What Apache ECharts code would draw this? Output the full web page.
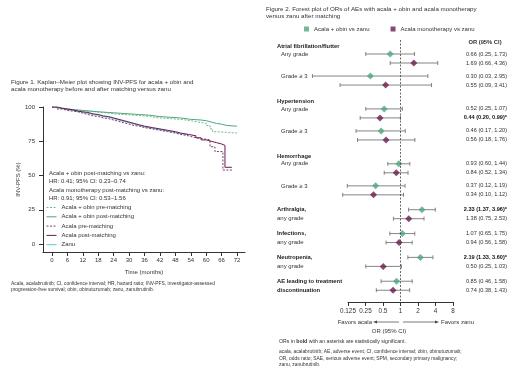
<!DOCTYPE html>
<html lang="en">
<head>
<meta charset="UTF-8">
<title>INV-PFS and AE odds ratios</title>
<script src="https://cdn.jsdelivr.net/npm/echarts@6.0.0/dist/echarts.min.js"></script>
<style>html,body{margin:0;background:#fff;}</style>
</head>
<body>
<div id="main" style="width:520px;height:374px;"></div>
<script>
// Figure 1: Kaplan-Meier steps, [month, % progression-free]
const obinPre = [[0,100],[1,99.5],[3,99],[5,98],[8,97.5],[11,97],[14,96.5],[17,96],[20,95],[24,94.5],[28,94],[32,93.5],[36,93],[38,92],[42,91.5],[46,91],[50,90],[54,89],[57,88],[60,86.5],[61.5,84],[62.5,82],[64,81],[72,80.5]];
const obinPost = [[0,100],[1,99.5],[2,99],[4,98.5],[6,98],[9,97.5],[12,97],[15,96.5],[18,96],[22,95.5],[26,95],[30,94.5],[34,94],[38,93],[42,92.5],[46,92],[50,91],[54,90.5],[58,90],[60,89],[62,88],[64,87.5],[66,86.5],[68,86],[72,86]];
const acalaPre = [[0,100],[2,98.5],[4,97.5],[6,97],[8,96.5],[10,95.5],[12,94.5],[14,93.5],[16,93],[18,92],[20,91.5],[22,90.5],[24,89.5],[26,88.5],[28,87.5],[30,86.5],[32,86],[34,85],[36,84],[39,83],[42,82],[45,81],[48,80],[50,79],[53,78],[55,77],[58,76],[61.5,71],[63.4,67.5],[66.5,54],[70,54]];
const acalaPost = [[0,100],[2,99],[4,98.5],[6,98],[8,97],[10,96.5],[12,96],[14,95],[16,94.5],[18,93.5],[20,93],[22,92],[24,91],[26,90],[28,89],[30,88],[32,87],[34,86],[36,85],[39,84],[42,83],[45,82],[48,81],[50,80],[53,79],[56,77.5],[58,76],[60,75],[62,74],[64,73],[66,72],[67.3,56],[70,56]];
const zanu = [[0,100],[2,99],[4,98],[6,97.5],[8,97],[10,96],[12,95.5],[14,94.5],[16,94],[18,93],[20,92.5],[22,91.5],[24,90.5],[26,89.5],[28,88.5],[30,87.5],[32,86.5],[34,85.5],[36,84.5],[39,83.5],[42,82.5],[45,81.5],[48,80.5],[50,80],[53,79.5]];
const kmMonthTicks = [0, 6, 12, 18, 24, 30, 36, 42, 48, 54, 60, 66, 72];
const kmPctTicks = [0, 25, 50, 75, 100];

// Figure 2: odds ratios, one entry per row pair
const aeNames = ['Atrial fibrillation/flutter', 'Hypertension', 'Hemorrhage', 'Arthralgia,', 'Infections,', 'Neutropenia,', 'AE leading to treatment'];
const aeGrades = [['Any grade', 'Grade \u2265 3'], ['Any grade', 'Grade \u2265 3'], ['Any grade', 'Grade \u2265 3'], ['any grade'], ['any grade'], ['any grade'], ['discontinuation']];
const obinOR = [0.66, 0.30, 0.52, 0.46, 0.93, 0.37, 2.33, 1.07, 2.19, 0.85];
const obinLo = [0.25, 0.03, 0.25, 0.17, 0.60, 0.12, 1.37, 0.65, 1.33, 0.46];
const obinHi = [1.73, 2.95, 1.07, 1.20, 1.44, 1.19, 3.96, 1.75, 3.60, 1.58];
const monoOR = [1.69, 0.55, 0.44, 0.56, 0.84, 0.34, 1.38, 0.94, 0.50, 0.74];
const monoLo = [0.66, 0.09, 0.20, 0.18, 0.52, 0.10, 0.75, 0.56, 0.25, 0.38];
const monoHi = [4.36, 3.41, 0.99, 1.76, 1.34, 1.12, 2.53, 1.58, 1.03, 1.43];

const FONT = 'Liberation Sans, Arial, sans-serif';
const GREEN = '#4ea67c', PURPLE = '#6a1c4c', INK = '#333';

// row layout in "row" units of the forest y axis (green row; purple sits one unit lower)
const pairY = [], heads = [];
let cur = -1;
aeGrades.forEach((grades, g) => {
  grades.forEach((lab, k) => {
    cur += (g === 0 && k === 0) ? 1 : k > 0 ? 1.45 : grades.length > 1 ? 2.65 : 1.65;
    pairY.push(cur);
    heads.push({ g, k, lab, stacked: grades.length > 1 });
    cur += 1;
  });
});

const myChart = echarts.init(document.getElementById('main'));

function kmLine(name, data, color, dashed) {
  return {
    name, type: 'line', step: 'end', data, xAxisIndex: 0, yAxisIndex: 0,
    symbol: 'none', showSymbol: false, silent: true,
    lineStyle: { color, width: 1, type: dashed ? [2, 1.5] : 'solid' },
    itemStyle: { color }
  };
}

function renderBar(params, api) {
  const y = api.value(3);
  const a = api.coord([api.value(1), y]);
  const b = api.coord([api.value(2), y]);
  const st = { stroke: '#666', lineWidth: 0.8 };
  return { type: 'group', children: [
    { type: 'line', shape: { x1: a[0], y1: a[1], x2: b[0], y2: b[1] }, style: st },
    { type: 'line', shape: { x1: a[0], y1: a[1] - 2, x2: a[0], y2: a[1] + 2 }, style: st },
    { type: 'line', shape: { x1: b[0], y1: b[1] - 2, x2: b[0], y2: b[1] + 2 }, style: st }
  ] };
}

const obinRows = obinOR.map((v, i) => [v, obinLo[i], obinHi[i], pairY[i]]);
const monoRows = monoOR.map((v, i) => [v, monoLo[i], monoHi[i], pairY[i] + 1]);

const axisTxt = { fontSize: 6, color: INK, fontFamily: FONT };

myChart.setOption({
  animation: false,
  textStyle: { fontFamily: FONT },
  grid: [
    { left: 43, top: 107, width: 202, height: 145, outerBoundsMode: 'none' },
    { left: 296, top: 40, width: 157, height: 262, outerBoundsMode: 'none' },
    { left: 348, top: 40, width: 105, height: 262, outerBoundsMode: 'none' }
  ],
  legend: [
    {
      data: ['Acala + obin pre-matching', 'Acala + obin post-matching', 'Acala pre-matching', 'Acala post-matching', 'Zanu'],
      orient: 'vertical', left: 46, top: 204.5, padding: 0, itemWidth: 10, itemHeight: 6, itemGap: 3.3,
      itemStyle: { opacity: 0 }, lineStyle: { width: 1 },
      textStyle: { fontSize: 6, color: INK, lineHeight: 6, fontFamily: FONT }, selectedMode: false
    },
    {
      data: ['Acala + obin vs zanu', 'Acala monotherapy vs zanu'],
      left: 304, top: 26, padding: 0, icon: 'rect', itemWidth: 5, itemHeight: 5, itemGap: 21,
      textStyle: { fontSize: 6, color: INK, fontFamily: FONT }, selectedMode: false
    }
  ],
  xAxis: [
    {
      gridIndex: 0, type: 'value', min: -3.5, max: 75.1,
      axisLine: { show: true, onZero: false, lineStyle: { color: INK, width: 1 } },
      axisTick: { show: true, customValues: kmMonthTicks, length: 4, lineStyle: { color: INK } },
      axisLabel: { customValues: kmMonthTicks, margin: 5, ...axisTxt },
      splitLine: { show: false },
      name: 'Time (months)', nameLocation: 'middle', nameGap: 17, nameTextStyle: axisTxt
    },
    { gridIndex: 1, type: 'log', logBase: 2, min: 1 / 64, max: 8, show: false },
    {
      gridIndex: 2, type: 'log', logBase: 2, min: 0.125, max: 8,
      axisLine: { show: true, onZero: false, lineStyle: { color: INK, width: 1 } },
      axisTick: { show: true, length: 4, lineStyle: { color: INK } },
      axisLabel: { margin: 6, formatter: v => String(v), ...axisTxt, fontSize: 6.3 },
      splitLine: { show: false }, minorTick: { show: false }
    }
  ],
  yAxis: [
    {
      gridIndex: 0, type: 'value', min: -5.8, max: 100,
      axisLine: { show: true, onZero: false, lineStyle: { color: INK, width: 1 } },
      axisTick: { show: true, customValues: kmPctTicks, length: 4, lineStyle: { color: INK } },
      axisLabel: { customValues: kmPctTicks, margin: 8, ...axisTxt },
      splitLine: { show: false },
      name: 'INV-PFS (%)', nameLocation: 'middle', nameGap: 18, nameTextStyle: axisTxt
    },
    { gridIndex: 1, type: 'value', inverse: true, min: -1.556, max: 27.556, show: false },
    { gridIndex: 2, type: 'value', show: false }
  ],
  series: [
    kmLine('Zanu', zanu, '#55c6da', false),
    kmLine('Acala + obin pre-matching', obinPre, '#6cbb90', true),
    kmLine('Acala + obin post-matching', obinPost, GREEN, false),
    kmLine('Acala pre-matching', acalaPre, '#7e3a72', true),
    kmLine('Acala post-matching', acalaPost, PURPLE, false),
    {
      type: 'custom', xAxisIndex: 1, yAxisIndex: 1, renderItem: renderBar,
      data: obinRows.concat(monoRows), encode: { x: [1, 2], y: 3 }, silent: true, z: 2
    },
    {
      name: 'Acala + obin vs zanu', type: 'scatter', xAxisIndex: 1, yAxisIndex: 1,
      symbol: 'diamond', symbolSize: 7, itemStyle: { color: GREEN }, z: 3, silent: true,
      data: obinRows.map(r => [r[0], r[3]]),
      markLine: {
        silent: true, symbol: ['none', 'none'], label: { show: false },
        lineStyle: { type: [2, 1.5], color: '#444', width: 0.8 },
        data: [{ xAxis: 1 }]
      }
    },
    {
      name: 'Acala monotherapy vs zanu', type: 'scatter', xAxisIndex: 1, yAxisIndex: 1,
      symbol: 'diamond', symbolSize: 7, itemStyle: { color: PURPLE }, z: 3, silent: true,
      data: monoRows.map(r => [r[0], r[3]])
    }
  ]
});

// text elements, forest rows placed through the forest y scale
function txt(x, y, text, size, extra) {
  return { type: 'text', silent: true, style: Object.assign({
    x, y, text, fontSize: size, fontFamily: FONT, fill: INK, textVerticalAlign: 'middle'
  }, extra || {}) };
}
const py = v => myChart.convertToPixel({ gridIndex: 1 }, [1, v])[1];
const g = [];

g.push(txt(11, 82, 'Figure 1. Kaplan\u2013Meier plot showing INV-PFS for acala + obin and', 6.2));
g.push(txt(11, 89.5, 'acala monotherapy before and after matching versus zanu', 6.2));
g.push(txt(49, 173, 'Acala + obin post-matching vs zanu:', 6));
g.push(txt(49, 181.5, 'HR: 0.41; 95% CI: 0.23\u20130.74', 6));
g.push(txt(49, 190, 'Acala monotherapy post-matching vs zanu:', 6));
g.push(txt(49, 198.5, 'HR: 0.91; 95% CI: 0.53\u20131.56', 6));
g.push(txt(11, 284, 'Acala, acalabrutinib; CI, confidence interval; HR, hazard ratio; INV-PFS, investigator-assessed', 4.9));
g.push(txt(11, 290, 'progression-free survival; obin, obinutuzumab; zanu, zanubrutinib.', 4.9));

g.push(txt(266, 9, 'Figure 2. Forest plot of ORs of AEs with acala + obin and acala monotherapy', 6.2));
g.push(txt(266, 16.5, 'versus zanu after matching', 6.2));
g.push(txt(485, 42, 'OR (95% CI)', 5.8, { fontWeight: 'bold', textAlign: 'center' }));

heads.forEach((h, i) => {
  const yG = py(pairY[i]), yP = py(pairY[i] + 1);
  const bold = { fontWeight: 'bold', fill: '#222' };
  if (h.stacked) {
    if (h.k === 0) g.push(txt(277, yG - 7.5, aeNames[h.g], 5.8, bold));
    g.push(txt(281, yG, h.lab, 6));
  } else {
    const isGrade = /grade/i.test(h.lab);
    g.push(txt(277, yG, aeNames[h.g], 5.8, bold));
    g.push(txt(277, yP, h.lab, isGrade ? 6 : 5.8, isGrade ? {} : bold));
  }
});

function orText(v, lo, hi) {
  const sig = hi < 1 || lo > 1;
  return { text: v.toFixed(2) + ' (' + lo.toFixed(2) + ', ' + hi.toFixed(2) + ')' + (sig ? '*' : ''), sig };
}
obinRows.concat(monoRows).forEach(r => {
  const t = orText(r[0], r[1], r[2]);
  g.push(txt(507, py(r[3]), t.text, 5.6, Object.assign({ textAlign: 'right' }, t.sig ? { fontWeight: 'bold', fill: '#111' } : {})));
});

// favours arrows under the axis
const ay = 322;
g.push(txt(372, ay, 'Favors acala', 6, { textAlign: 'right' }));
g.push({ type: 'line', silent: true, shape: { x1: 376, y1: ay, x2: 399, y2: ay }, style: { stroke: '#555', lineWidth: 0.8 } });
g.push({ type: 'polygon', silent: true, shape: { points: [[373, ay], [377, ay - 1.6], [377, ay + 1.6]] }, style: { fill: '#444' } });
g.push({ type: 'line', silent: true, shape: { x1: 403, y1: ay, x2: 436, y2: ay }, style: { stroke: '#555', lineWidth: 0.8 } });
g.push({ type: 'polygon', silent: true, shape: { points: [[439, ay], [435, ay - 1.6], [435, ay + 1.6]] }, style: { fill: '#444' } });
g.push(txt(441, ay, 'Favors zanu', 6));
g.push(txt(389, 331, 'OR (95% CI)', 6, { textAlign: 'center' }));

g.push({ type: 'text', silent: true, style: {
  x: 279, y: 342, text: 'ORs in {b|bold} with an asterisk are statistically significant.',
  fontSize: 5.2, fontFamily: FONT, fill: INK, textVerticalAlign: 'middle',
  rich: { b: { fontWeight: 'bold', fontSize: 5.2, fontFamily: FONT, fill: INK } }
} });
g.push(txt(279, 352, 'acala, acalabrutinib; AE, adverse event; CI, confidence interval; obin, obinutuzumab;', 4.9));
g.push(txt(279, 358.5, 'OR, odds ratio; SAE, serious adverse event; SPM, secondary primary malignancy;', 4.9));
g.push(txt(279, 365, 'zanu, zanubrutinib.', 4.9));

myChart.setOption({ graphic: { elements: g } });
</script>
</body>
</html>
